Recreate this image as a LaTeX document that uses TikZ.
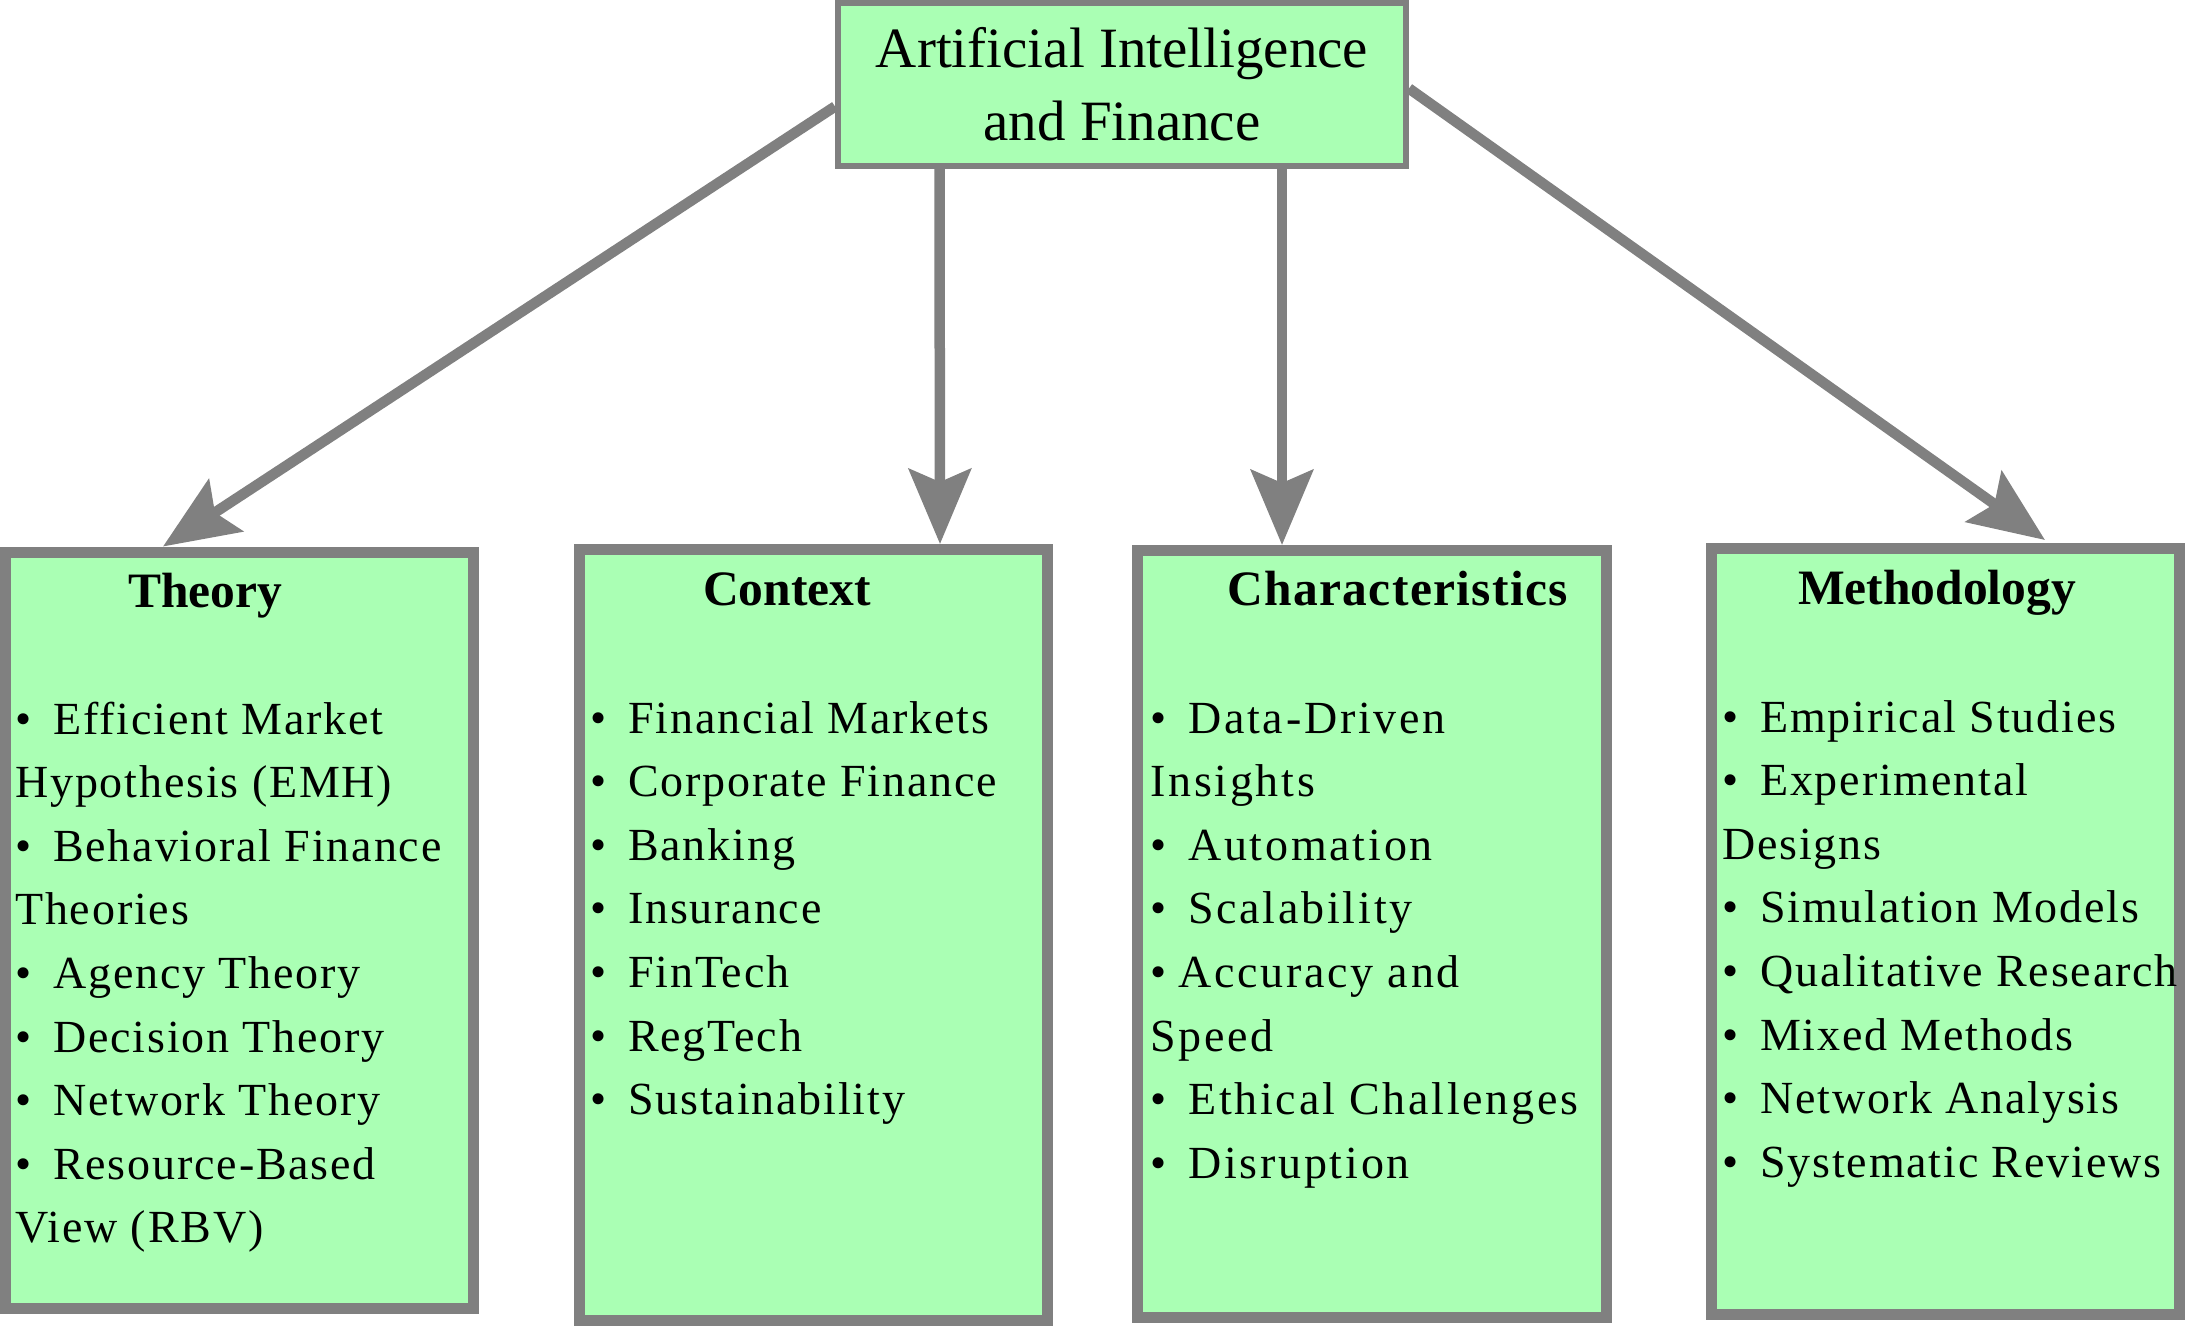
\documentclass[tikz,border=0pt]{standalone}
\usepackage{fontspec}
\setmainfont{Liberation Serif}[Ligatures=CommonOff]
\newfontfamily\itemfont{Liberation Serif}[LetterSpace=4,Ligatures=CommonOff]
\newfontfamily\itemfontwide{Liberation Serif}[LetterSpace=6,Ligatures=CommonOff]
\newfontfamily\titlewide{Liberation Serif}[LetterSpace=2.8,Ligatures=CommonOff]
\usetikzlibrary{arrows.meta,calc,backgrounds}
\definecolor{boxfill}{RGB}{170,255,180}
\definecolor{boxline}{RGB}{128,128,128}
\newcommand{\bu}{\makebox[38pt][l]{•}}
\newcommand{\bs}{\makebox[28pt][l]{•}}
\newcommand{\itemlist}[1]{\parbox[t]{540pt}{\itemfont\fontsize{46pt}{63.6pt}\selectfont\raggedright #1}}
\newcommand{\itemlistwide}[1]{\parbox[t]{540pt}{\itemfontwide\fontsize{46pt}{63.6pt}\selectfont\raggedright #1}}
\begin{document}
\begin{tikzpicture}[x=1pt,y=-1pt,
  bigbox/.style={draw=boxline, fill=boxfill, line width=11pt, rectangle, inner sep=0pt},
  topbox/.style={draw=boxline, fill=boxfill, line width=6pt, rectangle, inner sep=0pt,
    minimum width=568pt, minimum height=163pt, align=center,
    font=\fontsize{57pt}{73pt}\selectfont},
  boxtitle/.style={anchor=base west, inner sep=0pt, font=\bfseries\fontsize{49.5pt}{60pt}\selectfont},
  itemtext/.style={anchor=base west, inner sep=0pt},
  conn/.style={draw=boxline, line width=10.5pt, -{Stealth[length=75pt,width=62pt,inset=13pt]}}]
\useasboundingbox (0,0) rectangle (2185,1326);

\node[topbox] (top) at (1122,84.5) {Artificial Intelligence\\and Finance};

\node[bigbox, minimum width=467.5pt, minimum height=756.5pt] (theory) at (239.25,930.25) {};
\node[bigbox, minimum width=467.5pt, minimum height=771pt] (context) at (813.25,935) {};
\node[bigbox, minimum width=468.5pt, minimum height=767pt] (charac) at (1371.75,934) {};
\node[bigbox, minimum width=468pt, minimum height=766pt] (method) at (1945.5,931.5) {};

\node[boxtitle] (theoryT) at (128,607) {Theory};
\node[boxtitle] (contextT) at (703,605) {Context};
\node[boxtitle, font=\titlewide\bfseries\fontsize{49.5pt}{60pt}\selectfont] (characT) at (1227,605) {Characteristics};
\node[boxtitle] (methodT) at (1798,604) {Methodology};

\node[itemtext] (theoryL) at (15,734) {\itemlist{%
\bu Efficient Market\\
Hypothesis (EMH)\\
\bu Behavioral Finance\\
Theories\\
\bu Agency Theory\\
\bu Decision Theory\\
\bu Network Theory\\
\bu Resource-Based\\
View (RBV)}};

\node[itemtext] (contextL) at (590,733) {\itemlist{%
\bu Financial Markets\\
\bu Corporate Finance\\
\bu Banking\\
\bu Insurance\\
\bu FinTech\\
\bu RegTech\\
\bu Sustainability}};

\node[itemtext] (characL) at (1150,733) {\itemlistwide{%
\bu Data-Driven\\
Insights\\
\bu Automation\\
\bu Scalability\\
\bs Accuracy and\\
Speed\\
\bu Ethical Challenges\\
\bu Disruption}};

\node[itemtext] (methodL) at (1722,732) {\itemlist{%
\bu Empirical Studies\\
\bu Experimental\\
Designs\\
\bu Simulation Models\\
\bu Qualitative Research\\
\bu Mixed Methods\\
\bu Network Analysis\\
\bu Systematic Reviews}};

\begin{scope}[on background layer]
\draw[conn] ($(top.west)+(0,22)$) -- ($(theory.north west)+(163,0)$);
\draw[conn] ($(top.south west)+(104.5,0)$) -- ($(context.north west)+(366,0)$);
\draw[conn] ($(top.south west)+(447,0)$) -- ($(charac.north west)+(150,0)$);
\draw[conn] ($(top.east)+(0,4)$) -- ($(method.north west)+(339,-3)$);
\end{scope}
\end{tikzpicture}
\end{document}
